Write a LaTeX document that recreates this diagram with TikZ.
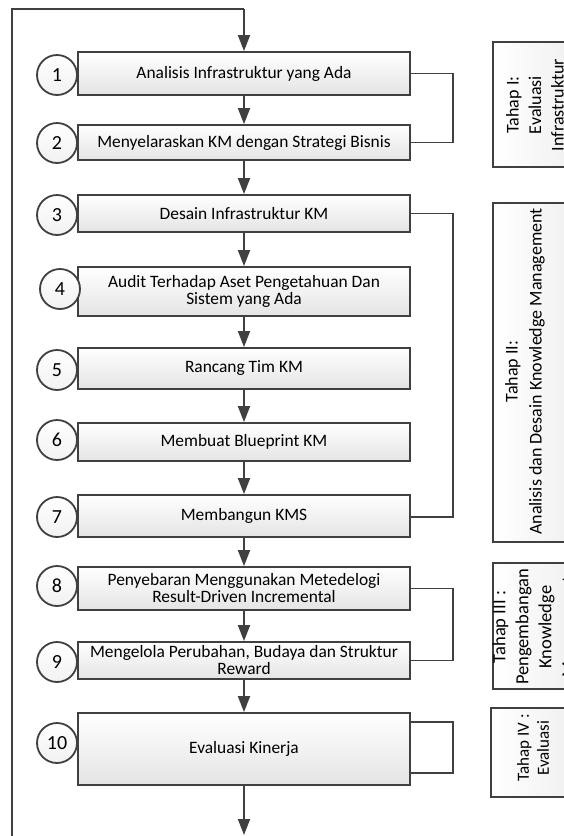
\documentclass[tikz,border=0pt]{standalone}
\usepackage{fontspec}
\setmainfont{Carlito}
\usetikzlibrary{arrows.meta}
\definecolor{lc}{HTML}{404040}
\definecolor{boxg}{HTML}{E4E4E4}
\begin{document}
\begin{tikzpicture}[x=1pt,y=-1pt,
  stepbox/.style={draw=lc, line width=1.8pt, top color=white, bottom color=boxg,
    minimum width=332pt, inner sep=0pt, align=center,
    font=\fontsize{17.4}{17}\selectfont},
  numc/.style={circle, draw=lc, line width=1.8pt, top color=white, bottom color=boxg!50, minimum size=40pt,
    inner sep=0pt, font=\fontsize{20}{20}\selectfont},
  conn/.style={draw=lc, line width=1.8pt},
  arr/.style={draw=lc, line width=1.8pt, -{Triangle[length=16pt,width=12pt,fill=lc]}},
  phase/.style={draw=lc, line width=1.8pt, left color=white, right color=boxg!60, inner sep=0pt},
  phasetext/.style={rotate=90, align=center, inner sep=0pt}]
\useasboundingbox (0,0) rectangle (564,836);
\clip (0,0) rectangle (564,836);
% main step boxes
\node[stepbox, minimum height=43pt] (b1) at (244,73.5) {Analisis Infrastruktur yang Ada};
\node[stepbox, minimum height=35pt] (b2) at (244,142.5) {Menyelaraskan KM dengan Strategi Bisnis};
\node[stepbox, minimum height=37pt] (b3) at (244,213.5) {Desain Infrastruktur KM};
\node[stepbox, minimum height=49pt] (b4) at (244,291.5) {Audit Terhadap Aset Pengetahuan Dan\\Sistem yang Ada};
\node[stepbox, minimum height=41pt] (b5) at (244,368.5) {Rancang Tim KM};
\node[stepbox, minimum height=38pt] (b6) at (244,442) {Membuat Blueprint KM};
\node[stepbox, minimum height=42pt] (b7) at (244,516) {Membangun KMS};
\node[stepbox, minimum height=43pt] (b8) at (244,588.5) {Penyebaran Menggunakan Metedelogi\\Result-Driven Incremental};
\node[stepbox, minimum height=37pt] (b9) at (244,660.5) {Mengelola Perubahan, Budaya dan Struktur\\Reward};
\node[stepbox, minimum height=72pt] (b10) at (244,749) {Evaluasi Kinerja};
% number circles
\node[numc] (n1) at (57,75) {1};
\node[numc] (n2) at (57,143) {2};
\node[numc] (n3) at (57,215) {3};
\node[numc] (n4) at (60,289) {4};
\node[numc] (n5) at (57,370) {5};
\node[numc] (n6) at (57,440) {6};
\node[numc] (n7) at (57,517) {7};
\node[numc] (n8) at (57,586) {8};
\node[numc] (n9) at (57,662) {9};
\node[numc] (n10) at (57,743) {10};
% arrows between steps
\draw[arr] (b1) -- (b2);
\draw[arr] (b2) -- (b3);
\draw[arr] (b3) -- (b4);
\draw[arr] (b4) -- (b5);
\draw[arr] (b5) -- (b6);
\draw[arr] (b6) -- (b7);
\draw[arr] (b7) -- (b8);
\draw[arr] (b8) -- (b9);
\draw[arr] (b9) -- (b10);
\coordinate (bot) at (244,835);
\draw[arr] (b10) -- (bot);
% outer loop
\coordinate (lb) at (12,840);
\coordinate (lt) at (12,9);
\coordinate (tt) at (244,9);
\draw[conn] (lb) -- (lt) -- (tt);
\draw[arr] (tt) -- (b1);
% brackets
\draw[conn] (b1.east) -- ++(42,0) |- (b2.east);
\draw[conn] (b3.east) -- ++(42,0) |- ([yshift=-1pt]b7.east);
\draw[conn] (b8.east) -- ++(42,0) |- (b9.east);
\coordinate (l10a) at ([yshift=27pt]b10.east);
\coordinate (l10b) at ([yshift=-24pt]b10.east);
\draw[conn] (l10a) -- ++(42,0) |- (l10b);
% phase boxes
\node[phase, minimum width=88pt, minimum height=125pt] (p1) at (537,104.5) {};
\node[phase, minimum width=88pt, minimum height=339pt] (p2) at (537,372.5) {};
\node[phase, minimum width=88pt, minimum height=126pt] (p3) at (537,626) {};
\node[phase, minimum width=88pt, minimum height=89pt] (p4) at (535,752.5) {};
\node[phasetext, font=\fontsize{18}{22.5}\selectfont] (t1) at (535,105) {Tahap I:\\Evaluasi\\Infrastruktur};
\node[phasetext, font=\fontsize{18}{24}\selectfont] (t2) at (525,371.5) {Tahap II:\\Analisis dan Desain Knowledge Management};
\node[phasetext, font=\fontsize{18.5}{23}\selectfont] (t3) at (535,627) {Tahap III :\\Pengembangan\\Knowledge\\Management};
\node[phasetext, font=\fontsize{17}{20}\selectfont] (t4) at (533,748) {Tahap IV :\\Evaluasi};
\end{tikzpicture}
\end{document}
